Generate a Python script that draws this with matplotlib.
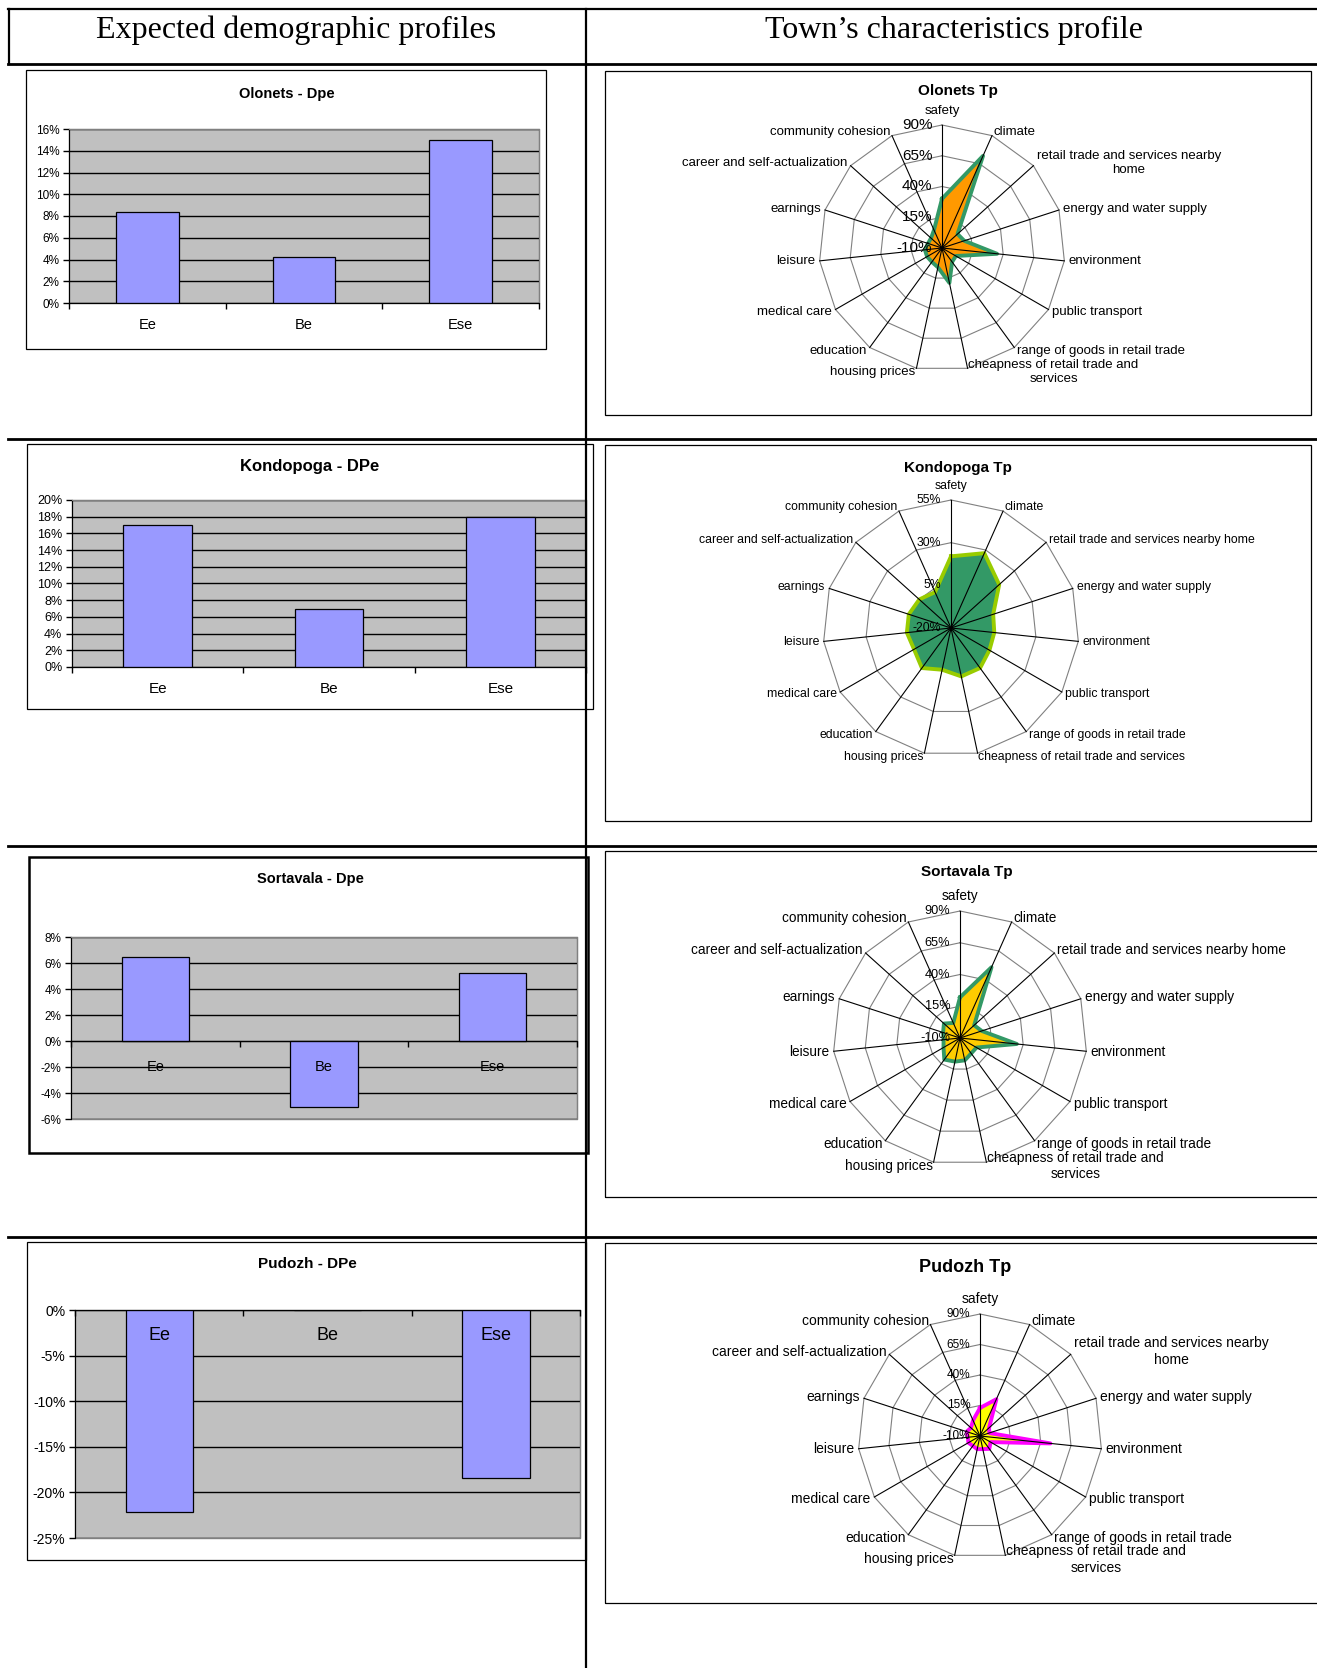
import numpy as np
import matplotlib
matplotlib.use("Agg")
import matplotlib.pyplot as plt
from matplotlib.lines import Line2D
from matplotlib.patches import Rectangle
from matplotlib.ticker import PercentFormatter

plt.rcParams['font.family'] = ['Liberation Sans', 'DejaVu Sans']
plt.rcParams['axes.unicode_minus'] = False

W, H = 1317, 1668

# expected demographic profiles, %
groups = ["Ee", "Be", "Ese"]
olonets_dpe = [8.4, 4.2, 15.0]
kondopoga_dpe = [17.0, 7.0, 18.0]
sortavala_dpe = [6.5, -5.1, 5.2]
pudozh_dpe = [-22.2, 0.0, -18.4]

# town characteristics profiles, %
features = ["safety", "climate", "retail trade and services nearby home",
            "energy and water supply", "environment", "public transport",
            "range of goods in retail trade",
            "cheapness of retail trade and services", "housing prices",
            "education", "medical care", "leisure", "earnings",
            "career and self-actualization", "community cohesion"]
olonets_tp = [30, 72, 7, 9, 35, 3, 4, 19, 6, 4, 4, 4, 2, 2, 6]
kondopoga_tp = [22, 28, 18, 6, 5.5, 6, 9, 9, 5, 9, 5, 6, 6, 5, 3]
sortavala_tp = [22, 51, 5, 8, 35, 5, 5, 8, 9, 11, 5, 3, 4, 7, 3]
pudozh_tp = [13, 23, 0, -2, 48, 0, 3, 1, 1, 0, 1, 0, 1.5, 0, 4]

# radar ring levels
rings_wide = [-10, 15, 40, 65, 90]
rings_kondopoga = [-20, 5, 30, 55]

wrap_both = {
    "retail trade and services nearby home": "retail trade and services nearby\nhome",
    "cheapness of retail trade and services": "cheapness of retail trade and\nservices",
}
wrap_cheap = {
    "cheapness of retail trade and services": "cheapness of retail trade and\nservices",
}


def frac_rect(x0, y0, x1, y1):
    return [x0 / W, 1 - y1 / H, (x1 - x0) / W, (y1 - y0) / H]


def hline(fig, y, x0, x1, lw=1.6):
    fig.add_artist(Line2D([x0 / W, x1 / W], [1 - y / H, 1 - y / H],
                          color='black', lw=lw, transform=fig.transFigure))


def vline(fig, x, y0, y1, lw=1.6):
    fig.add_artist(Line2D([x / W, x / W], [1 - y0 / H, 1 - y1 / H],
                          color='black', lw=lw, transform=fig.transFigure))


def frame(fig, x0, y0, x1, y1, lw=0.9):
    fig.add_artist(Rectangle((x0 / W, 1 - y1 / H), (x1 - x0) / W, (y1 - y0) / H,
                             transform=fig.transFigure, fill=False,
                             ec='black', lw=lw))


def bar_panel(fig, values, title, ylim, step, plot, title_xy, title_fs,
              tick_fs, cat_fs, cat_pad):
    ax = fig.add_axes(frac_rect(*plot))
    ax.set_facecolor('#C0C0C0')
    x = np.arange(len(groups))
    ax.bar(x, values, width=0.4, color='#9999FF', edgecolor='black',
           linewidth=0.9, zorder=3)
    ax.set_xlim(-0.5, len(groups) - 0.5)
    ax.set_ylim(*ylim)
    ax.set_yticks(np.arange(ylim[0], ylim[1] + step / 2, step))
    ax.yaxis.set_major_formatter(PercentFormatter(decimals=0))
    ax.yaxis.grid(True, color='black', linewidth=1.0)
    ax.set_axisbelow(True)
    # category names sit on top of the bars
    ax.xaxis.set_zorder(4)

    ax.set_xticks(np.arange(len(groups) + 1) - 0.5)
    ax.set_xticklabels([])
    ax.set_xticks(x, minor=True)
    ax.set_xticklabels(groups, minor=True)
    ax.tick_params(axis='x', which='major', direction='out', length=4, width=1)
    ax.tick_params(axis='x', which='minor', length=0, pad=cat_pad,
                   labelsize=cat_fs)
    ax.tick_params(axis='y', direction='out', length=4, width=1,
                   labelsize=tick_fs, pad=3)

    ax.spines['bottom'].set_position(('data', 0))
    ax.spines['bottom'].set_zorder(4)
    for s in ('top', 'right'):
        ax.spines[s].set_color('#808080')
    ax.add_patch(Rectangle((0, 0), 1, 1, transform=ax.transAxes, fill=False,
                           ec='#808080', lw=1, clip_on=False, zorder=0.5))
    fig.text(title_xy[0] / W, 1 - title_xy[1] / H, title, ha='center',
             va='center', fontsize=title_fs, weight='bold')
    return ax


def radar_panel(fig, values, title, rings, center, R, title_xy, title_fs,
                label_fs, ring_fs, fill, edge, wrap):
    cx, cy = center
    ax = fig.add_axes(frac_rect(cx - R, cy - R, cx + R, cy + R),
                      projection='polar')
    ax.set_theta_zero_location('N')
    ax.set_theta_direction(-1)
    ax.set_ylim(rings[0], rings[-1])
    ax.axis('off')

    n = len(features)
    theta = np.arange(n) * 2 * np.pi / n
    closed = np.append(theta, theta[0])
    for r in rings[1:]:
        ax.plot(closed, [r] * (n + 1), color='#808080', lw=0.8,
                clip_on=False, zorder=1)
    vals = np.append(values, values[0])
    ax.fill(closed, vals, color=fill, zorder=2, clip_on=False)
    ax.plot(closed, vals, color=edge, lw=2.8, zorder=2.5, clip_on=False)
    for t in theta:
        ax.plot([t, t], [rings[0], rings[-1]], color='black', lw=0.8,
                zorder=3, clip_on=False)

    for t, name in zip(theta, features):
        s, c = np.sin(t), np.cos(t)
        if abs(s) < 0.05:
            ha = 'center'
        elif s > 0:
            ha = 'left'
        else:
            ha = 'right'
        va = 'bottom' if c > 0.99 else 'center'
        dy = 3 * c + (3 if va == 'bottom' else 0)
        ax.annotate(wrap.get(name, name), xy=(t, rings[-1]),
                    xytext=(3 * s, dy), textcoords='offset points',
                    ha=ha, va=va, fontsize=label_fs, multialignment='center',
                    annotation_clip=False)
    for r in rings:
        ax.annotate(f"{r}%", xy=(0, r), xytext=(-7, 0),
                    textcoords='offset points', ha='right', va='center',
                    fontsize=ring_fs, annotation_clip=False, zorder=4)
    fig.text(title_xy[0] / W, 1 - title_xy[1] / H, title, ha='center',
             va='center', fontsize=title_fs, weight='bold')
    return ax


fig = plt.figure(figsize=(W / 100, H / 100), dpi=100)

# table grid
hline(fig, 9, 8, W)
vline(fig, 8.5, 9, 64)
hline(fig, 64, 8, W, lw=2.0)
vline(fig, 586, 9, H)
for y in (439, 846, 1237):
    hline(fig, y, 8, W, lw=2.0)

fig.text(296 / W, 1 - 30 / H, "Expected demographic profiles", ha='center',
         va='center', fontsize=23, family='Liberation Serif')
fig.text(954 / W, 1 - 30 / H, "Town\u2019s characteristics profile",
         ha='center', va='center', fontsize=23, family='Liberation Serif')

# left column: bar charts
frame(fig, 26, 70, 546, 349)
bar_panel(fig, olonets_dpe, "Olonets - Dpe", (0, 16), 2, (69, 129, 539, 303),
          (287, 94), 10.5, 8.5, 10.5, 11)

frame(fig, 27, 444, 593, 709)
bar_panel(fig, kondopoga_dpe, "Kondopoga - DPe", (0, 20), 2,
          (72, 500, 586, 667), (310, 467), 12, 9, 11, 11)

frame(fig, 29, 857, 588, 1153, lw=1.8)
bar_panel(fig, sortavala_dpe, "Sortavala - Dpe", (-6, 8), 2,
          (71, 937, 577, 1119), (310, 879), 10.5, 8.5, 10.5, 14)

frame(fig, 27, 1242, 586, 1560)
bar_panel(fig, pudozh_dpe, "Pudozh - DPe", (-25, 0), 5,
          (75, 1310, 580, 1538), (307, 1264), 11, 10, 13, 12)

# right column: radar charts
frame(fig, 605, 71, 1311, 415)
radar_panel(fig, olonets_tp, "Olonets Tp", rings_wide, (942, 248), 123,
            (958, 91), 11, 9.5, 11, '#FF9900', '#339966', wrap_both)

frame(fig, 605, 445, 1311, 821)
radar_panel(fig, kondopoga_tp, "Kondopoga Tp", rings_kondopoga, (951, 628),
            128, (958, 468), 11, 8.8, 8.8, '#339966', '#99CC00', {})

frame(fig, 605, 851, 1325, 1197)
radar_panel(fig, sortavala_tp, "Sortavala Tp", rings_wide, (960, 1038), 127,
            (967, 872), 11, 9.8, 9.2, '#FFCC00', '#339966', wrap_cheap)

frame(fig, 605, 1243, 1325, 1603)
radar_panel(fig, pudozh_tp, "Pudozh Tp", rings_wide, (980, 1436), 122,
            (965, 1267), 13, 10, 8.5, '#FFFF00', '#FF00FF', wrap_both)

fig.savefig("out.png", dpi=100)
